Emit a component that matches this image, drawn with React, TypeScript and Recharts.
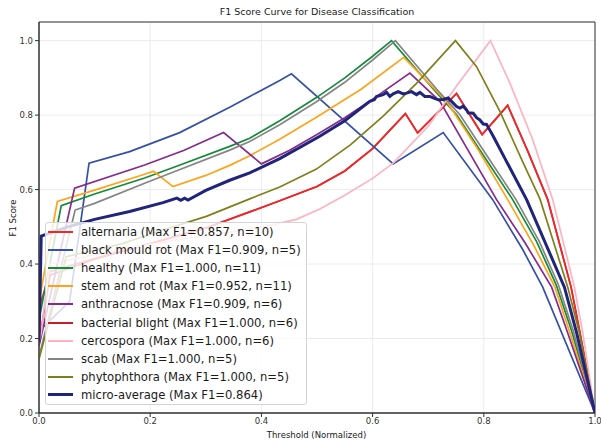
import { CartesianGrid, Legend, Line, LineChart, ReferenceArea, XAxis, YAxis } from "recharts";

type Pt = [number, number];

// threshold (normalized) vs F1
const alternaria: Pt[] = [
  [0, 0.28], [0.02, 0.38], [0.1, 0.415], [0.2, 0.455], [0.3, 0.497], [0.379, 0.54], [0.433, 0.57],
  [0.5, 0.608], [0.55, 0.65], [0.6, 0.71], [0.659, 0.804], [0.681, 0.752], [0.751, 0.858], [0.797, 0.748],
  [0.843, 0.826], [0.88, 0.7], [0.915, 0.573], [0.957, 0.338], [0.973, 0.215], [1, 0],
];
const blackMouldRot: Pt[] = [
  [0, 0.22], [0.055, 0.3], [0.09, 0.671], [0.163, 0.702], [0.253, 0.753], [0.343, 0.821], [0.379, 0.85],
  [0.433, 0.893], [0.454, 0.911], [0.637, 0.669], [0.727, 0.753], [0.816, 0.573], [0.87, 0.439],
  [0.906, 0.338], [1, 0],
];
const healthy: Pt[] = [
  [0, 0.25], [0.04, 0.557], [0.1, 0.588], [0.19, 0.631], [0.25, 0.664], [0.343, 0.716], [0.379, 0.738],
  [0.433, 0.785], [0.499, 0.847], [0.55, 0.9], [0.6, 0.958], [0.634, 1.0], [0.709, 0.87], [0.751, 0.801],
  [0.8, 0.69], [0.852, 0.573], [0.895, 0.46], [0.93, 0.345], [0.958, 0.22], [1, 0],
];
const stemAndRot: Pt[] = [
  [0, 0.3], [0.033, 0.568], [0.103, 0.6], [0.19, 0.641], [0.206, 0.649], [0.241, 0.608], [0.3, 0.638],
  [0.343, 0.665], [0.379, 0.691], [0.433, 0.735], [0.499, 0.794], [0.58, 0.87], [0.656, 0.955],
  [0.733, 0.837], [0.79, 0.707], [0.843, 0.573], [0.89, 0.45], [0.928, 0.338], [0.955, 0.215], [1, 0],
];
const anthracnose: Pt[] = [
  [0, 0.18], [0.064, 0.604], [0.19, 0.666], [0.26, 0.705], [0.332, 0.753], [0.4, 0.669], [0.45, 0.705],
  [0.5, 0.748], [0.55, 0.793], [0.6, 0.843], [0.667, 0.913], [0.721, 0.837], [0.77, 0.71], [0.823, 0.573],
  [0.875, 0.455], [0.922, 0.338], [0.951, 0.215], [1, 0],
];
const bacterialBlight: Pt[] = [
  [0, 0.19], [0.02, 0.37], [0.1, 0.413], [0.2, 0.455], [0.3, 0.497], [0.379, 0.54], [0.433, 0.57],
  [0.5, 0.608], [0.55, 0.65], [0.6, 0.71], [0.659, 0.804], [0.681, 0.752], [0.751, 0.858], [0.797, 0.748],
  [0.843, 0.826], [0.88, 0.7], [0.915, 0.573], [0.957, 0.338], [0.973, 0.215], [1, 0],
];
const cercospora: Pt[] = [
  [0, 0.19], [0.004, 0.215], [0.019, 0.4], [0.1, 0.425], [0.169, 0.445], [0.25, 0.465], [0.35, 0.487],
  [0.42, 0.505], [0.463, 0.52], [0.505, 0.548], [0.55, 0.585], [0.6, 0.63], [0.637, 0.671], [0.7, 0.77],
  [0.751, 0.878], [0.812, 1.0], [0.847, 0.886], [0.888, 0.734], [0.924, 0.573], [0.963, 0.338],
  [0.978, 0.215], [1, 0],
];
const scab: Pt[] = [
  [0, 0.15], [0.065, 0.545], [0.1, 0.563], [0.19, 0.617], [0.25, 0.652], [0.343, 0.706], [0.379, 0.729],
  [0.433, 0.774], [0.499, 0.836], [0.55, 0.888], [0.6, 0.948], [0.641, 1.0], [0.715, 0.87], [0.757, 0.801],
  [0.806, 0.69], [0.858, 0.573], [0.9, 0.46], [0.934, 0.345], [0.961, 0.22], [1, 0],
];
const phytophthora: Pt[] = [
  [0, 0.145], [0.049, 0.42], [0.15, 0.455], [0.22, 0.49], [0.301, 0.528], [0.379, 0.575], [0.433, 0.607],
  [0.499, 0.655], [0.56, 0.72], [0.619, 0.797], [0.679, 0.885], [0.749, 1.0], [0.787, 0.93], [0.829, 0.81],
  [0.871, 0.671], [0.901, 0.575], [0.951, 0.338], [0.972, 0.215], [1, 0],
];
const microAverage: Pt[] = [
  [0, 0.19], [0.004, 0.475], [0.052, 0.5], [0.1, 0.52], [0.163, 0.541], [0.223, 0.565], [0.248, 0.577],
  [0.255, 0.571], [0.262, 0.577], [0.268, 0.572], [0.3, 0.598], [0.343, 0.625], [0.379, 0.645],
  [0.433, 0.683], [0.505, 0.743], [0.55, 0.785], [0.595, 0.837], [0.603, 0.841], [0.607, 0.85],
  [0.619, 0.855], [0.625, 0.861], [0.631, 0.85], [0.637, 0.857], [0.646, 0.863], [0.655, 0.857],
  [0.661, 0.859], [0.67, 0.863], [0.679, 0.855], [0.685, 0.861], [0.694, 0.85], [0.703, 0.85],
  [0.709, 0.846], [0.718, 0.841], [0.727, 0.842], [0.736, 0.846], [0.742, 0.837], [0.751, 0.823],
  [0.757, 0.819], [0.763, 0.824], [0.769, 0.814], [0.772, 0.806], [0.781, 0.805], [0.787, 0.793],
  [0.793, 0.787], [0.799, 0.776], [0.805, 0.775], [0.808, 0.767], [0.817, 0.743], [0.877, 0.573],
  [0.945, 0.338], [0.967, 0.215], [1, 0],
];

const classNames = [
  "alternaria", "black mould rot", "healthy", "stem and rot", "anthracnose",
  "bacterial blight", "cercospora", "scab", "phytophthora", "micro-average",
];
const maxF1 = ["0.857", "0.909", "1.000", "0.952", "0.909", "1.000", "1.000", "1.000", "1.000", "0.864"];
const supportN = [10, 5, 11, 11, 6, 6, 6, 5, 5, null];
const lineColors = [
  "#f02828", "#3551a6", "#168a3b", "#ffa41a", "#842b8c",
  "#c81e2c", "#ffb3c1", "#858585", "#7f7f1c", "#20247a",
];
const curves = [
  alternaria, blackMouldRot, healthy, stemAndRot, anthracnose,
  bacterialBlight, cercospora, scab, phytophthora, microAverage,
];
const drawOrder = [5, 0, 1, 2, 3, 4, 6, 7, 8, 9];

const xTicks = [0, 0.2, 0.4, 0.6, 0.8, 1.0];
const yTicks = [0, 0.2, 0.4, 0.6, 0.8, 1.0];

const legendLabel = (i: number) =>
  supportN[i] == null
    ? `${classNames[i]} (Max F1=${maxF1[i]})`
    : `${classNames[i]} (Max F1=${maxF1[i]}, n=${supportN[i]})`;

function LegendBox() {
  return (
    <div
      style={{
        width: 262,
        height: 183,
        boxSizing: "border-box",
        background: "rgba(255,255,255,0.8)",
        border: "1px solid #d4d4d4",
        borderRadius: 3,
        fontSize: 11.6,
        color: "#1a1a1a",
      }}
    >
      {classNames.map((name, i) => (
        <div key={name} style={{ display: "flex", alignItems: "center", height: 18.1 }}>
          <span
            style={{
              display: "inline-block",
              width: 25,
              borderTop: `${i === 9 ? 3 : 2}px solid ${lineColors[i]}`,
              marginLeft: 2,
              marginRight: 8,
            }}
          />
          <span style={{ whiteSpace: "nowrap" }}>{legendLabel(i)}</span>
        </div>
      ))}
    </div>
  );
}

export default function App() {
  return (
    <div
      style={{
        position: "absolute",
        left: 0,
        top: 0,
        width: 601,
        height: 442,
        background: "#fff",
        fontFamily: "DejaVu Sans, sans-serif",
      }}
    >
      <div
        style={{
          position: "absolute",
          left: 39,
          width: 556,
          top: 6,
          lineHeight: "12px",
          fontSize: 9.5,
          textAlign: "center",
          color: "#1a1a1a",
        }}
      >
        F1 Score Curve for Disease Classification
      </div>
      <LineChart width={601} height={442} margin={{ top: 22, right: 6, left: 0, bottom: 0 }}>
        <CartesianGrid stroke="#ebebeb" strokeWidth={1} />
        <XAxis
          type="number"
          dataKey="x"
          domain={[0, 1]}
          ticks={xTicks}
          tickFormatter={(v: number) => v.toFixed(1)}
          height={29}
          tickSize={4}
          tickMargin={1}
          tick={{ fill: "#333", fontSize: 8.5 }}
          stroke="#333"
          allowDataOverflow
        />
        <YAxis
          type="number"
          domain={[0, 1.05]}
          ticks={yTicks}
          tickFormatter={(v: number) => v.toFixed(1)}
          width={39}
          tickSize={4}
          tickMargin={2}
          tick={{ fill: "#333", fontSize: 8.5 }}
          stroke="#333"
          allowDataOverflow
        />
        {drawOrder.map((i) => (
          <Line
            key={classNames[i]}
            data={curves[i].map(([x, y]) => ({ x, y }))}
            dataKey="y"
            type="linear"
            stroke={lineColors[i]}
            strokeWidth={i === 9 ? 3 : 1.7}
            dot={false}
            activeDot={false}
            isAnimationActive={false}
          />
        ))}
        <ReferenceArea x1={0} x2={1} y1={0} y2={1.05} fill="none" stroke="#333" strokeWidth={1} />
        <Legend
          layout="vertical"
          align="center"
          verticalAlign="middle"
          wrapperStyle={{ left: 45, top: 222 }}
          content={() => <LegendBox />}
        />
      </LineChart>
      <div
        style={{
          position: "absolute",
          left: 316.5,
          top: 435,
          transform: "translate(-50%, -50%)",
          fontSize: 8.5,
          color: "#1a1a1a",
          whiteSpace: "nowrap",
        }}
      >
        Threshold (Normalized)
      </div>
      <div
        style={{
          position: "absolute",
          left: 12.5,
          top: 217.5,
          transform: "translate(-50%, -50%) rotate(-90deg)",
          fontSize: 8.5,
          color: "#1a1a1a",
          whiteSpace: "nowrap",
        }}
      >
        F1 Score
      </div>
    </div>
  );
}
